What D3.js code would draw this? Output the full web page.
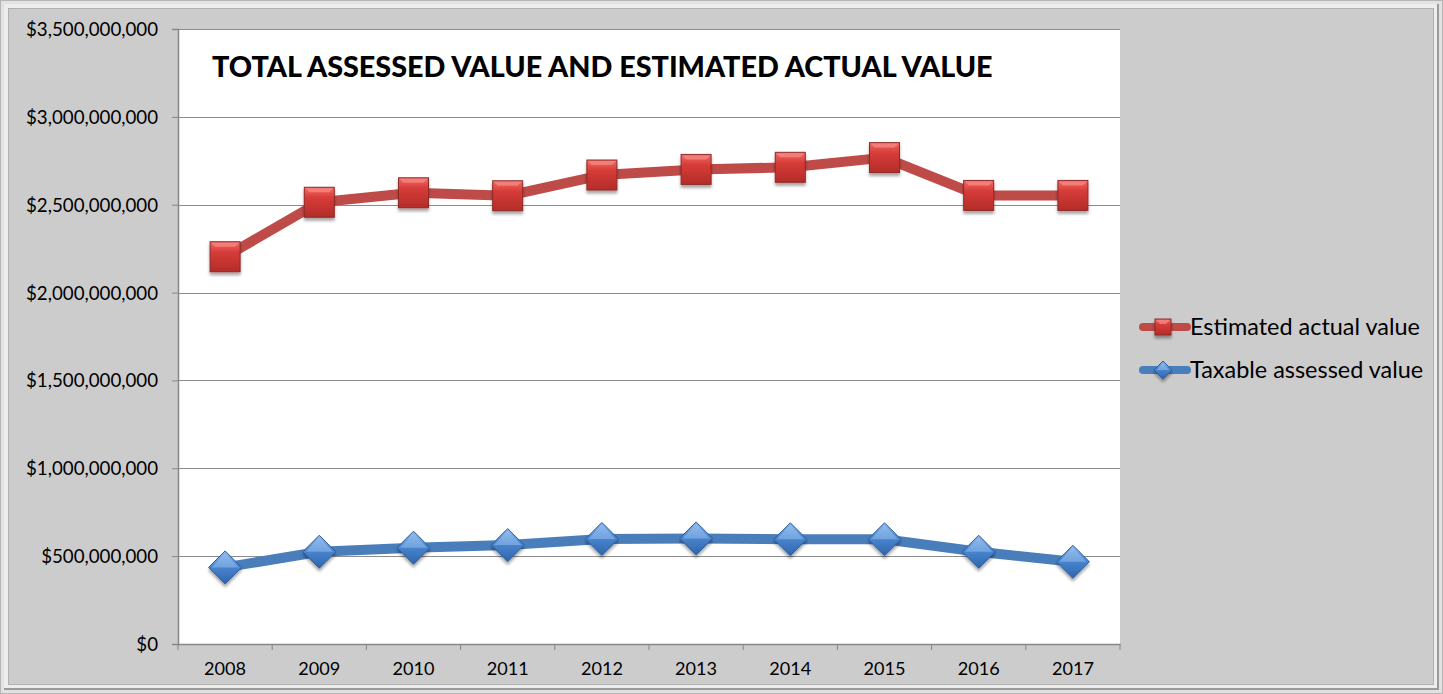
<!DOCTYPE html>
<html><head><meta charset="utf-8">
<script src="https://cdn.jsdelivr.net/npm/d3@7"></script>
<style>
html,body{margin:0;padding:0;background:#fff;}
svg{display:block;}
text{font-family:Lato,"Open Sans",sans-serif;fill:#000;}
</style></head>
<body>
<svg id="chart" width="1443" height="694"></svg>
<script>
const years = ["2008","2009","2010","2011","2012","2013","2014","2015","2016","2017"];
const estimatedActual = [2204000000,2514000000,2568000000,2551000000,2669000000,2701000000,2713000000,2768000000,2553000000,2553000000];
const taxableAssessed = [436000000,525000000,548000000,563000000,598000000,601000000,596000000,596000000,525000000,468000000];
const yTicks = [0,500000000,1000000000,1500000000,2000000000,2500000000,3000000000,3500000000];
const titleText = "TOTAL ASSESSED VALUE AND ESTIMATED ACTUAL VALUE";
const seriesNames = ["Estimated actual value","Taxable assessed value"];

const svg = d3.select("#chart");
const defs = svg.append("defs");

function fitSize(str, weight, targetW){
  const t = svg.append("text").attr("font-size",20).attr("font-weight",weight).text(str);
  const w = t.node().getComputedTextLength(); t.remove();
  return 20*targetW/w;
}

const lg = defs.append("linearGradient").attr("id","redG").attr("x1",0).attr("y1",0).attr("x2",0).attr("y2",1);
lg.append("stop").attr("offset","0%").attr("stop-color","#f26a66");
lg.append("stop").attr("offset","35%").attr("stop-color","#d63c38");
lg.append("stop").attr("offset","100%").attr("stop-color","#b32c29");
const bg = defs.append("linearGradient").attr("id","blueG").attr("x1",0).attr("y1",0).attr("x2",0).attr("y2",1);
bg.append("stop").attr("offset","0%").attr("stop-color","#8fb8ec");
bg.append("stop").attr("offset","45%").attr("stop-color","#4a86d0");
bg.append("stop").attr("offset","100%").attr("stop-color","#2f65ad");
const f = defs.append("filter").attr("id","shadow").attr("x","-50%").attr("y","-50%").attr("width","200%").attr("height","200%");
f.append("feGaussianBlur").attr("in","SourceAlpha").attr("stdDeviation",1.5);
f.append("feOffset").attr("dx",0).attr("dy",3).attr("result","ob");
f.append("feComponentTransfer").append("feFuncA").attr("type","linear").attr("slope",0.35);
const fm = f.append("feMerge"); fm.append("feMergeNode"); fm.append("feMergeNode").attr("in","SourceGraphic");

const W=1443,H=694;
svg.append("rect").attr("x",0).attr("y",0).attr("width",W).attr("height",H).attr("fill","#b5b5b5");
svg.append("rect").attr("x",1).attr("y",1).attr("width",W-2).attr("height",H-2).attr("fill","#e2e2e2");
svg.append("rect").attr("x",4).attr("y",4).attr("width",W-8).attr("height",H-8).attr("fill","#9a9a9a");
svg.append("rect").attr("x",4).attr("y",4).attr("width",W-10).attr("height",H-10).attr("fill","#ededed");
svg.append("rect").attr("x",8).attr("y",8).attr("width",W-17).attr("height",H-17).attr("fill","#b0b0b0");
svg.append("rect").attr("x",9).attr("y",9).attr("width",W-19).attr("height",H-19).attr("fill","#cccccc");

const plot = {l:178,t:29,r:1120,b:644};
const x = d3.scaleBand().domain(years).range([plot.l,plot.r]);
const y = d3.scaleLinear().domain([0,3500000000]).range([plot.b,plot.t]);

svg.append("rect").attr("x",plot.l).attr("y",plot.t).attr("width",plot.r-plot.l).attr("height",plot.b-plot.t).attr("fill","#fff");

svg.append("g").selectAll("line").data(yTicks.filter(d=>d>0)).join("line")
  .attr("x1",plot.l).attr("x2",plot.r).attr("y1",d=>Math.round(y(d))+0.5).attr("y2",d=>Math.round(y(d))+0.5)
  .attr("stroke","#8c8c8c").attr("stroke-width",1);

const fmt = d=>"$"+d3.format(",")(d);
const ySize = fitSize(fmt(3500000000), 400, 132);
const xSize = fitSize("2008", 400, 42);
const legSize = fitSize(seriesNames[0], 400, 230);

const yAxis = svg.append("g").attr("transform",`translate(${plot.l},0)`)
  .call(d3.axisLeft(y).tickValues(yTicks).tickFormat(fmt).tickSize(6).tickPadding(14));
yAxis.select(".domain").attr("stroke","#868686").attr("stroke-width",1.5);
yAxis.selectAll(".tick line").attr("stroke","#868686");
yAxis.selectAll("text").attr("font-size",ySize).style("font-family","Lato, sans-serif").attr("fill","#000").attr("dy","0.35em");

const xAxis = svg.append("g").attr("transform",`translate(0,${plot.b})`)
  .call(d3.axisBottom(x).tickSize(0).tickPadding(18));
xAxis.select(".domain").attr("stroke","#868686").attr("stroke-width",1.5);
xAxis.selectAll("text").attr("font-size",xSize).style("font-family","Lato, sans-serif").attr("fill","#000");
const bounds = years.map(d=>x(d)).concat([plot.r]);
xAxis.selectAll("line.bt").data(bounds).join("line").attr("class","bt")
  .attr("x1",d=>d).attr("x2",d=>d).attr("y1",0).attr("y2",6).attr("stroke","#868686");

const title = svg.append("text").attr("x",212).attr("y",77).attr("font-weight",900).attr("font-size",29).text(titleText);
const tl = title.node().getComputedTextLength();
title.attr("font-size",29*781/tl);

const line = d3.line().x((d,i)=>x(years[i])+x.bandwidth()/2).y(d=>y(d));
svg.append("path").datum(taxableAssessed).attr("d",line).attr("fill","none").attr("stroke","#4a7ebb").attr("stroke-width",10).attr("stroke-linejoin","round");
svg.append("path").datum(estimatedActual).attr("d",line).attr("fill","none").attr("stroke","#be4b48").attr("stroke-width",10).attr("stroke-linejoin","round");

function square(g,cx,cy,s){
  const gg=g.append("g").attr("filter","url(#shadow)");
  gg.append("rect").attr("x",cx-s/2).attr("y",cy-s/2).attr("width",s).attr("height",s).attr("fill","url(#redG)").attr("stroke","#8e2a27").attr("stroke-width",1);
  gg.append("path").attr("d",`M${cx-s/2+1},${cy-s/2+1}L${cx+s/2-1},${cy-s/2+1}L${cx+s/2-5},${cy-s/2+5}L${cx-s/2+5},${cy-s/2+5}Z`).attr("fill","#f58b87").attr("opacity",0.7);
}
function diamond(g,cx,cy,s){
  const h=s/2;
  const gg=g.append("g").attr("filter","url(#shadow)");
  gg.append("path").attr("d",`M${cx},${cy-h}L${cx+h},${cy}L${cx},${cy+h}L${cx-h},${cy}Z`).attr("fill","url(#blueG)").attr("stroke","#2c5d9c").attr("stroke-width",1);
  gg.append("path").attr("d",`M${cx},${cy-h+2}L${cx+h-3},${cy}L${cx-h+3},${cy}Z`).attr("fill","#9cc3f0").attr("opacity",0.5);
}
const mk = svg.append("g");
estimatedActual.forEach((v,i)=>square(mk,x(years[i])+x.bandwidth()/2,y(v),30));
taxableAssessed.forEach((v,i)=>diamond(mk,x(years[i])+x.bandwidth()/2,y(v),33));

const lgG = svg.append("g");
const legY=[327,370];
lgG.append("line").attr("x1",1143).attr("x2",1187).attr("y1",legY[0]).attr("y2",legY[0]).attr("stroke","#be4b48").attr("stroke-width",8).attr("stroke-linecap","round");
square(lgG,1163,legY[0],16);
lgG.append("line").attr("x1",1143).attr("x2",1187).attr("y1",legY[1]).attr("y2",legY[1]).attr("stroke","#4a7ebb").attr("stroke-width",8).attr("stroke-linecap","round");
diamond(lgG,1163,legY[1],18);
seriesNames.forEach((n,i)=>{
  lgG.append("text").attr("x",1190).attr("y",legY[i]).attr("dy","0.36em").attr("font-size",legSize).text(n);
});
</script>
</body></html>
